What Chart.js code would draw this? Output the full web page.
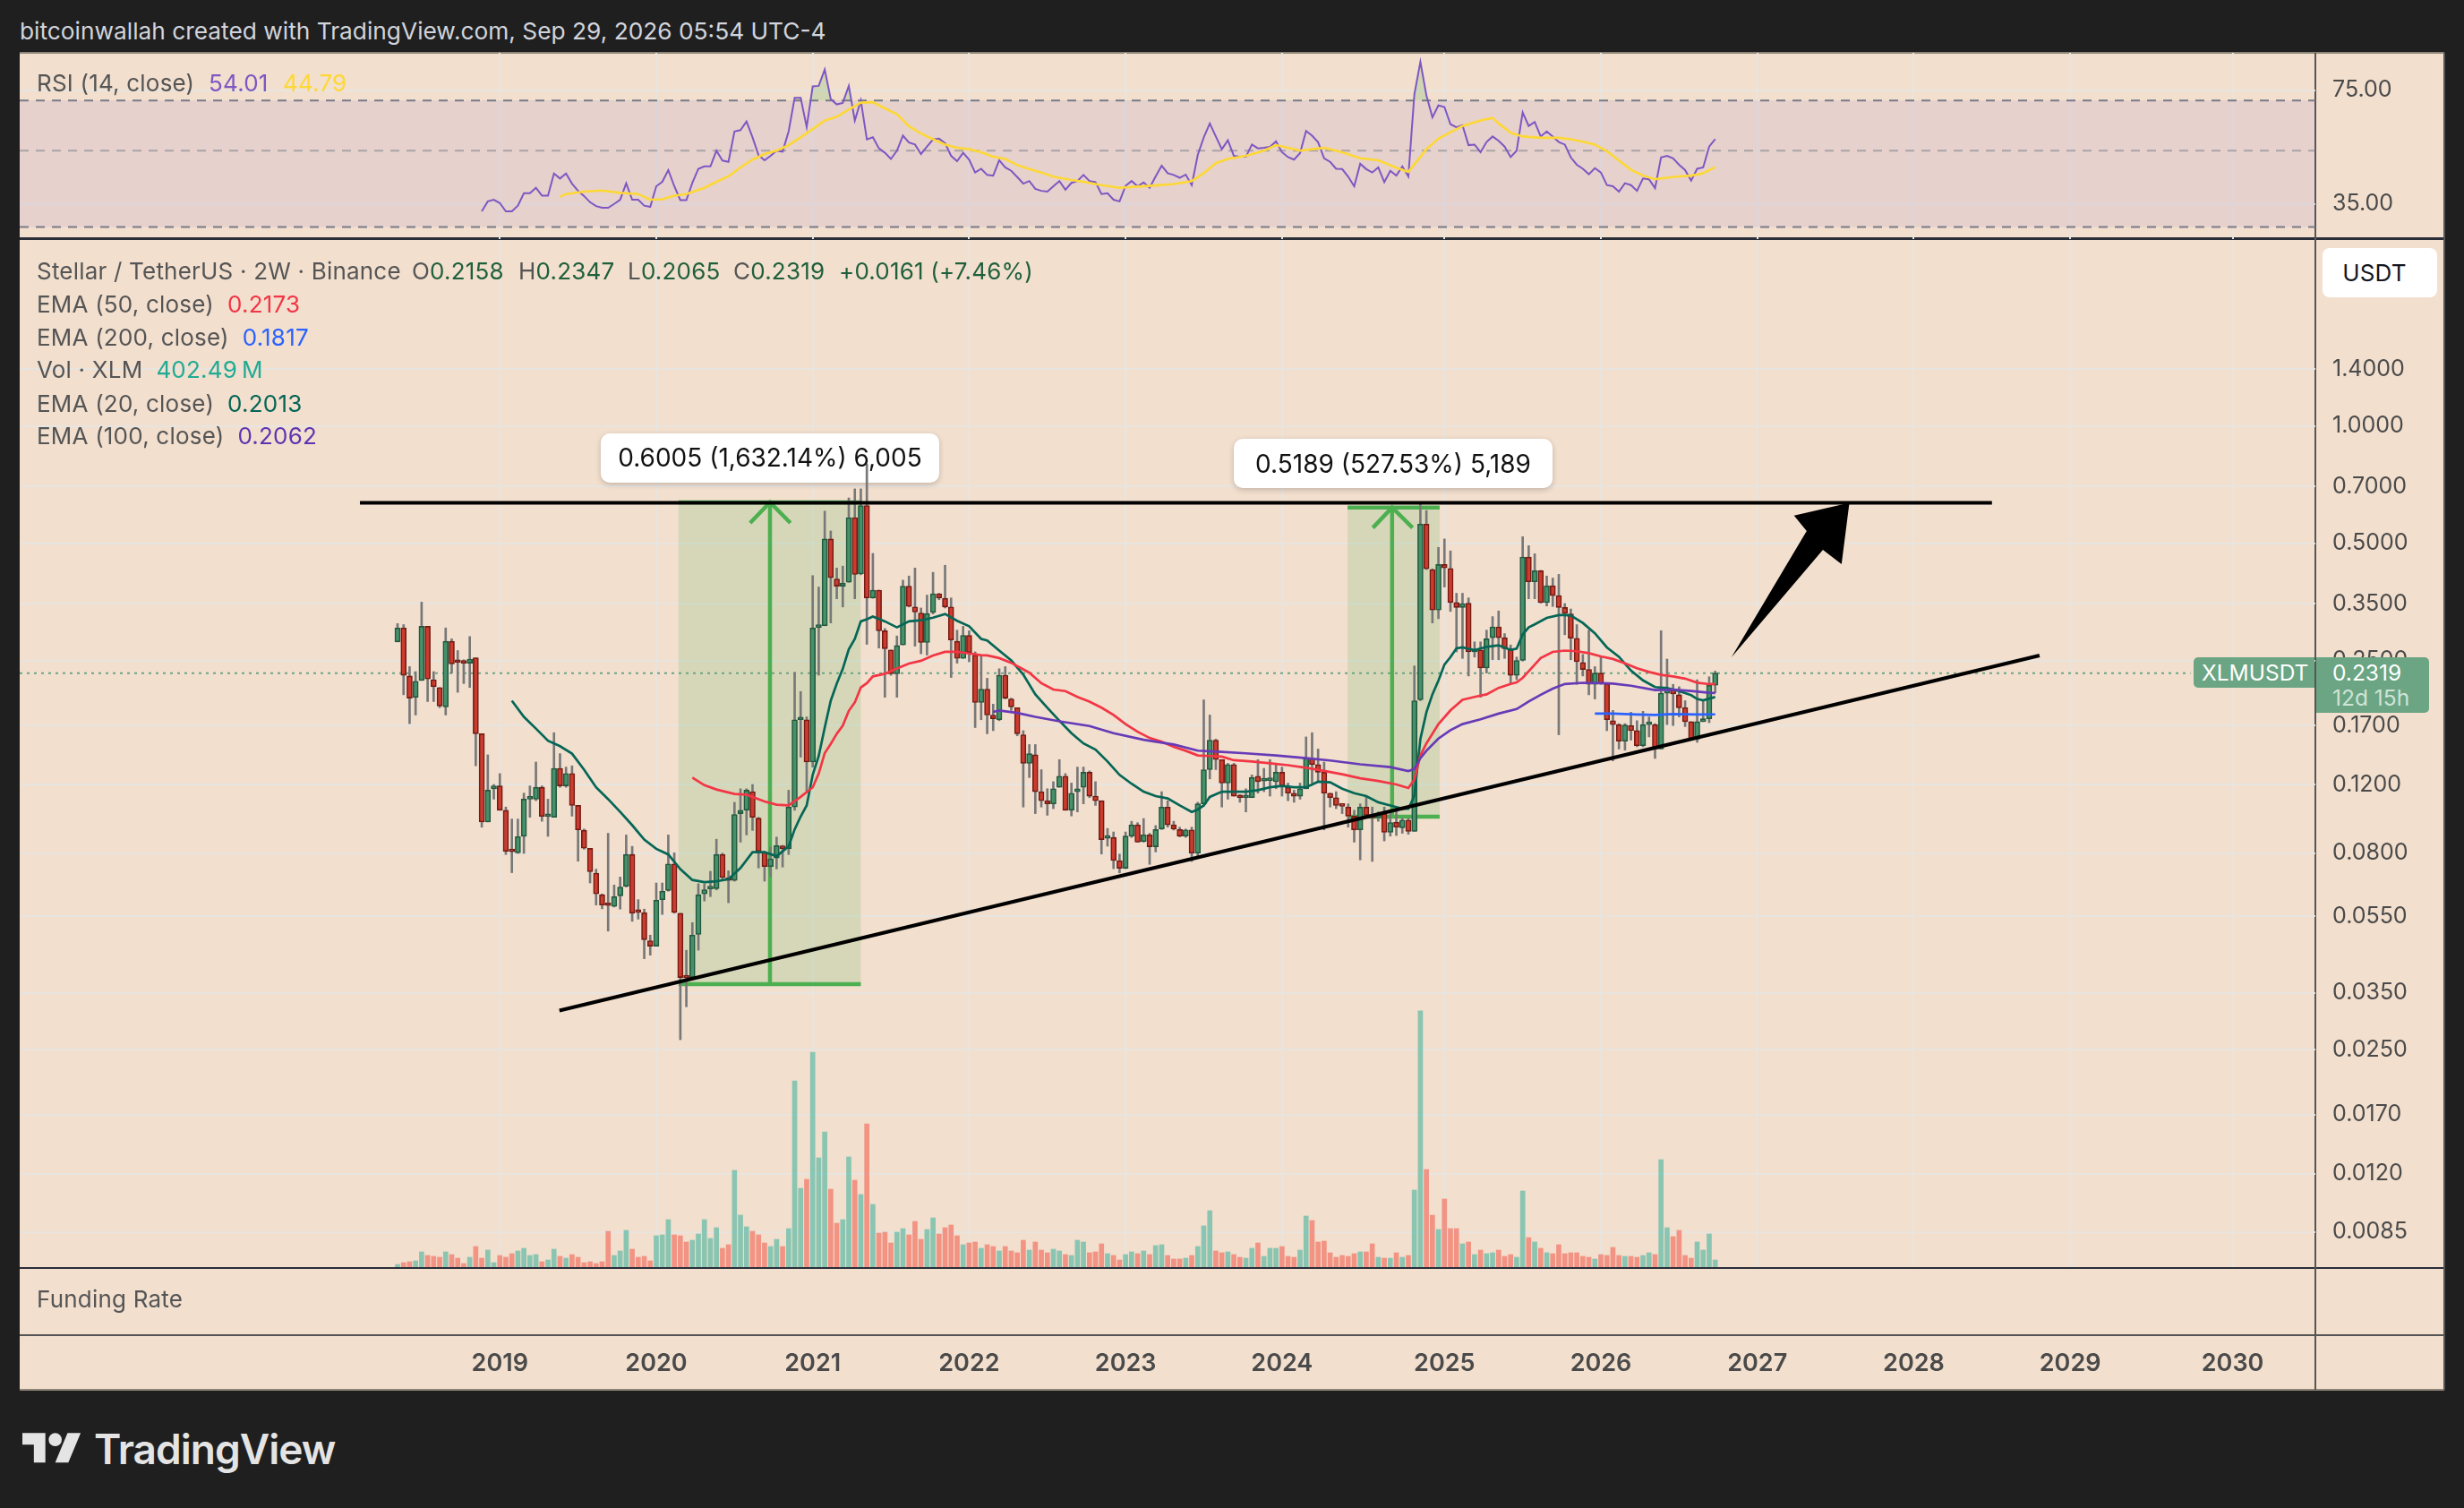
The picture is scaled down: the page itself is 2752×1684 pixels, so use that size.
<!DOCTYPE html>
<html>
<head>
<meta charset="utf-8">
<title>XLMUSDT</title>
<script src="https://cdn.jsdelivr.net/npm/chart.js@4/dist/chart.umd.min.js"></script>
<style>
html,body{margin:0;padding:0;background:#1f1f1f;width:2752px;height:1684px;overflow:hidden;font-family:Inter,"Noto Sans",sans-serif}
#panel{position:absolute;left:22px;top:58px;width:2708px;height:1494px;background:#f2dfce}
canvas{position:absolute;z-index:2}
.rule{position:absolute;z-index:1}
.t{position:absolute;z-index:3;white-space:nowrap;font-size:26px;letter-spacing:.2px;line-height:30px;color:#555}
.up{color:#1f5f3c}
.box{position:absolute;z-index:3;text-align:center;color:#111;font-size:28px;line-height:30px;white-space:nowrap}
.badge{position:absolute;z-index:3;background:#6ba583;color:#fff;font-size:24.5px;line-height:30px;white-space:nowrap}
</style>
</head>
<body>
<div class="t" style="left:22px;top:20px;color:#d1d4dc;font-size:26.3px;letter-spacing:0">bitcoinwallah created with TradingView.com, Sep 29, 2026 05:54 UTC-4</div>
<div id="panel"></div>
<div class="rule" style="left:22px;top:58px;width:2708px;height:2px;background:#8f8578"></div>
<div class="rule" style="left:22px;top:265px;width:2708px;height:3px;background:#2a2e39"></div>
<div class="rule" style="left:22px;top:1415px;width:2708px;height:2px;background:#2a2e39"></div>
<div class="rule" style="left:22px;top:1490px;width:2708px;height:2px;background:#555"></div>
<div class="rule" style="left:22px;top:1551px;width:2708px;height:2px;background:#8f8578"></div>
<div class="rule" style="left:2585px;top:59px;width:2px;height:1493px;background:#555"></div>
<div class="rule" style="left:2729px;top:59px;width:2px;height:1493px;background:#555"></div>
<canvas id="rsiChart" width="2708" height="208" style="left:22px;top:59px"></canvas>
<canvas id="priceChart" width="2708" height="1284" style="left:22px;top:268px"></canvas>

<div class="t" style="left:41px;top:78px">RSI (14, close)</div>
<div class="t" style="left:233px;top:78px;color:#7e57c2">54.01</div>
<div class="t" style="left:316px;top:78px;color:#fdd835">44.79</div>

<div class="t" style="left:41px;top:288px">Stellar / TetherUS · 2W · Binance</div>
<div class="t" style="left:460px;top:288px">O<span class="up">0.2158</span></div>
<div class="t" style="left:579px;top:288px">H<span class="up">0.2347</span></div>
<div class="t" style="left:701px;top:288px">L<span class="up">0.2065</span></div>
<div class="t" style="left:819px;top:288px">C<span class="up">0.2319</span></div>
<div class="t up" style="left:937px;top:288px">+0.0161 (+7.46%)</div>
<div class="t" style="left:41px;top:325px">EMA (50, close)&nbsp;&nbsp;<span style="color:#f23645">0.2173</span></div>
<div class="t" style="left:41px;top:362px">EMA (200, close)&nbsp;&nbsp;<span style="color:#2962ff">0.1817</span></div>
<div class="t" style="left:41px;top:398px">Vol · XLM&nbsp;&nbsp;<span style="color:#22ab94">402.49&#8201;M</span></div>
<div class="t" style="left:41px;top:436px">EMA (20, close)&nbsp;&nbsp;<span style="color:#056656">0.2013</span></div>
<div class="t" style="left:41px;top:472px">EMA (100, close)&nbsp;&nbsp;<span style="color:#5e35b1">0.2062</span></div>

<div class="box" style="left:671px;top:496px;width:378px">0.6005 (1,632.14%) 6,005</div>
<div class="box" style="left:1378px;top:503px;width:356px">0.5189 (527.53%) 5,189</div>

<div class="t" style="left:2594px;top:277px;width:116px;height:55px;padding-right:12px;line-height:55px;background:#fff;border-radius:8px;text-align:center;color:#131722">USDT</div>
<div class="badge" style="left:2450px;top:734px;width:135px;height:34px;line-height:34px;border-radius:5px 0 0 5px;text-indent:9px">XLMUSDT</div>
<div class="badge" style="left:2587px;top:734px;width:126px;height:62px;border-radius:0 5px 5px 0">
<div style="position:absolute;left:18px;top:2px">0.2319</div>
<div style="position:absolute;left:18px;top:30px;color:#cfe3d7">12d 15h</div>
</div>

<div class="t" style="left:41px;top:1436px">Funding Rate</div>

<svg style="position:absolute;left:25px;top:1593px" width="66" height="51.4" viewBox="0 0 36 28"><path fill="#e4e4e4" d="M14 22H7V11H0V4h14v18zM28 22h-8l7.5-18h8L28 22z"/><circle fill="#e4e4e4" cx="20" cy="8" r="4"/></svg>
<div class="t" style="left:105px;top:1593px;color:#e4e4e4;font-size:46px;line-height:50px;font-weight:600;letter-spacing:-1px">TradingView</div>

<script>
const opens=[
.279,.303,.228,.201,.222,.306,.223,.213,.190,.280,
.248,.247,.246,.254,.162,.0961,.117,.119,.103,.0808,
.0800,.0883,.110,.110,.118,.0993,.0988,.132,.119,.128,
.106,.0915,.0822,.0710,.0625,.0588,.0583,.0621,.0657,.0793,
.0565,.0562,.0476,.0461,.0607,.0641,.0750,.0560,.0383,.0383,
.0494,.0628,.0647,.0648,.0793,.0689,.0680,.101,.103,.115,
.0983,.0804,.0738,.0776,.0834,.0821,.105,.176,.176,.137,
.304,.307,.513,.405,.388,.397,.582,.417,.625,.362,
.379,.298,.266,.231,.274,.388,.343,.331,.278,.332,
.371,.361,.343,.280,.253,.290,.258,.195,.211,.181,
.176,.229,.199,.189,.161,.136,.143,.115,.109,.107,
.118,.126,.103,.115,.118,.129,.112,.109,.0873,.0877,
.0765,.0731,.0884,.0945,.0856,.0891,.0830,.0922,.105,.0945,
.0919,.0884,.0917,.0799,.107,.131,.156,.139,.121,.135,
.1115,.111,.111,.126,.1225,.1228,.122,.129,.118,.114,
.112,.117,.140,.135,.129,.114,.111,.106,.105,.0995,
.0917,.105,.100,.0986,.101,.0904,.096,.0929,.0972,.0909,
.198,.560,.428,.337,.441,.431,.352,.342,.351,.263,
.266,.239,.286,.305,.286,.268,.229,.250,.461,.398,
.425,.352,.389,.367,.342,.329,.285,.247,.237,.217,
.232,.218,.175,.171,.155,.170,.165,.151,.171,.171,
.148,.206,.210,.204,.189,.174,.157,.174,.177,.2158]
const highs=[
.311,.309,.241,.234,.353,.306,.234,.213,.303,.284,
.265,.251,.288,.254,.162,.143,.120,.128,.105,.0978,
.0978,.114,.119,.137,.119,.110,.163,.144,.133,.134,
.106,.0922,.0822,.0727,.0628,.0899,.0662,.0694,.0890,.0832,
.0607,.0574,.0492,.0670,.0670,.0890,.0801,.0560,.0450,.0530,
.0667,.0667,.0718,.0868,.0799,.0720,.108,.117,.117,.120,
.0988,.0808,.0828,.0879,.0837,.116,.233,.208,.179,.413,
.386,.605,.538,.432,.437,.654,.690,.690,.800,.471,
.379,.302,.266,.289,.402,.412,.432,.341,.368,.421,
.372,.439,.362,.299,.306,.298,.263,.258,.225,.193,
.238,.241,.200,.189,.165,.152,.152,.131,.117,.122,
.139,.128,.121,.133,.133,.130,.122,.109,.0925,.0906,
.0795,.0906,.0965,.0957,.0981,.0899,.0941,.115,.109,.0965,
.0932,.0922,.0932,.108,.198,.181,.157,.139,.136,.136,
.113,.117,.127,.139,.132,.139,.135,.133,.121,.116,
.121,.159,.163,.148,.137,.114,.115,.106,.107,.103,
.107,.112,.105,.102,.105,.101,.105,.0984,.0984,.242,
.634,.607,.430,.488,.513,.478,.372,.372,.362,.279,
.279,.299,.324,.335,.293,.274,.255,.520,.493,.470,
.426,.412,.407,.416,.350,.339,.309,.259,.299,.241,
.255,.219,.186,.172,.172,.184,.175,.185,.179,.172,
.298,.252,.217,.214,.197,.174,.223,.197,.227,.2347]
const lows=[
.279,.204,.172,.181,.222,.196,.196,.189,.181,.232,
.207,.218,.213,.134,.0932,.0961,.110,.103,.0793,.0712,
.0798,.0798,.0988,.109,.0965,.0883,.0988,.118,.118,.0995,
.0762,.0818,.0670,.0588,.0575,.0504,.0581,.0574,.0654,.0534,
.0541,.0428,.0437,.0461,.0556,.0638,.0560,.0265,.0322,.0380,
.0450,.0602,.0618,.0643,.0682,.0596,.0677,.0853,.0890,.0914,
.0732,.0677,.0695,.0728,.0736,.0793,.103,.141,.115,.133,
.229,.307,.312,.360,.343,.397,.360,.415,.275,.361,
.269,.201,.229,.201,.274,.343,.272,.260,.258,.329,
.358,.341,.226,.246,.253,.248,.168,.176,.162,.165,
.175,.199,.186,.160,.105,.125,.101,.105,.100,.104,
.118,.103,.0996,.102,.107,.111,.106,.0795,.0833,.0729,
.0711,.0729,.0877,.0853,.0853,.0748,.0805,.0919,.0932,.0916,
.0880,.0877,.0761,.0785,.107,.124,.131,.105,.110,.112,
.108,.102,.111,.114,.115,.112,.117,.112,.109,.108,
.110,.117,.121,.122,.0917,.105,.104,.101,.0932,.0853,
.0768,.0984,.0761,.0965,.0859,.0884,.0887,.0899,.0894,.0909,
.197,.428,.312,.320,.386,.334,.263,.253,.228,.255,
.201,.232,.251,.251,.253,.218,.223,.249,.360,.360,
.351,.345,.344,.161,.291,.251,.217,.228,.204,.199,
.217,.165,.138,.148,.147,.156,.150,.150,.159,.140,
.148,.171,.170,.179,.169,.156,.154,.174,.173,.2065]
const closes=[
.303,.229,.200,.221,.306,.224,.214,.191,.280,.245,
.247,.246,.252,.162,.0961,.116,.119,.103,.0808,.0806,
.0881,.110,.1105,.118,.0993,.0997,.132,.119,.128,.106,
.0917,.0823,.0716,.0628,.0588,.0586,.0618,.0654,.0793,.0560,
.0563,.0479,.0461,.0605,.0638,.0750,.0563,.0383,.0382,.0492,
.0625,.0644,.0648,.0793,.0692,.0680,.1005,.103,.116,.0988,
.0808,.0738,.0773,.0836,.0821,.105,.176,.177,.137,.303,
.306,.513,.408,.388,.395,.582,.416,.625,.362,.379,
.298,.268,.231,.273,.388,.344,.333,.278,.330,.371,
.362,.343,.282,.253,.290,.262,.195,.211,.181,.177,
.229,.200,.190,.162,.136,.144,.115,.109,.107,.117,
.126,.103,.114,.117,.129,.112,.109,.0866,.0880,.0765,
.0731,.0884,.0945,.0853,.0891,.0830,.0919,.105,.0945,.0922,
.0884,.0917,.0799,.107,.131,.156,.139,.121,.135,.112,
.111,.1115,.125,.122,.1228,.123,.129,.119,.114,.112,
.117,.140,.135,.129,.114,.111,.106,.1055,.0995,.0917,
.105,.100,.0984,.101,.0904,.0958,.0932,.0972,.0909,.197,
.560,.430,.337,.441,.432,.352,.342,.350,.263,.267,
.239,.284,.305,.286,.268,.229,.250,.461,.398,.425,
.352,.389,.367,.342,.330,.285,.248,.237,.217,.232,
.218,.176,.171,.155,.1706,.165,.151,.171,.172,.148,
.206,.211,.205,.189,.174,.157,.174,.177,.2158,.2319]
const volumes=[
151,252,302,352,855,654,604,553,855,704,
503,201,553,1157,503,956,252,654,553,755,
906,1057,654,704,302,402,1006,604,503,704,
553,252,302,201,302,2012,654,906,2063,1006,
553,604,352,1761,1811,2666,1811,1761,1409,1509,
1861,2666,1610,2214,1057,1258,5433,2918,2264,2012,
1811,1358,1157,1560,1157,2163,10464,4427,4930,12074,
6138,7597,4377,2465,2666,6188,4880,4075,8050,3522,
1912,1962,1358,1962,2163,1811,2566,1560,2113,2767,
1861,2214,2365,1761,1258,1358,1409,1057,1258,1157,
906,1157,906,805,1509,956,1409,956,805,1006,
906,704,654,1509,1409,805,855,1308,755,654,
402,704,855,755,906,704,1207,1258,654,453,
453,503,654,1157,2314,3170,906,805,855,704,
553,503,1057,1358,604,1057,1057,1157,604,553,
956,2868,2616,1409,1459,805,553,654,604,755,
855,855,1308,553,503,503,805,553,654,4327,
14389,5484,2918,2113,3824,2163,2163,1308,1409,704,
956,755,805,956,604,704,553,4276,1660,1409,
1057,805,755,1258,755,805,805,604,553,453,
704,654,1107,654,604,604,553,654,805,704,
6037,2214,1711,2063,654,503,1409,956,1861,402.49]

const ema20Bars=[19,21,23,25,27,29,31,33,35,37,39,41,43,45,47,49,51,53,55,57,59,61,63,65,66,67,68,69,70,71,72,73,74,75,76,77,78,79,81,83,85,87,89,91,93,95,97,98,100,102,104,106,108,110,112,114,116,118,120,122,124,126,128,130,132,133,134,135,137,139,141,143,145,147,149,151,153,155,157,159,161,163,165,167,168,169,170,171,172,173,174,175,176,177,179,181,183,185,186,187,188,189,191,193,194,195,197,199,201,203,205,207,209,211,213,215,216,217,218,219]
const ema20=[.197,.179,.167,.1555,.1505,.144,.131,.118,.110,.102,.0943,.0866,.082,.0793,.0727,.0682,.0673,.0677,.0685,.0732,.0804,.0804,.0785,.0832,.0920,.0993,.106,.127,.142,.168,.197,.218,.238,.267,.284,.315,.319,.324,.315,.304,.315,.317,.322,.329,.316,.306,.284,.2815,.265,.250,.2300,.2045,.189,.175,.1625,.153,.1475,.1375,.127,.1205,.115,.112,.1105,.106,.102,.1035,.106,.1115,.115,.115,.115,.116,.118,.119,.118,.118,.122,.1215,.117,.114,.112,.108,.106,.1040,.104,.1122,.1570,.184,.2045,.222,.2440,.255,.2685,.270,.2655,.271,.2735,.266,.268,.2915,.304,.3095,.3215,.327,.327,.326,.312,.2935,.270,.2555,.2355,.2222,.2135,.2122,.2085,.2036,.199,.1975,.1995,.2013]
const ema50Bars=[49,51,53,56,58,61,63,65,67,69,70,71,72,73,74,75,76,77,78,79,81,83,85,87,89,91,93,95,97,98,100,102,105,107,109,111,113,115,117,119,121,123,125,127,129,131,133,135,137,139,142,145,148,151,154,157,160,163,166,168,169,170,171,173,175,177,179,181,183,185,186,187,188,190,192,194,196,198,200,202,204,206,208,210,212,214,216,218,219]
const ema50=[.125,.1195,.1165,.1135,.113,.1085,.1065,.106,.1115,.118,.128,.1445,.1525,.162,.17,.1855,.195,.213,.2185,.2275,.231,.2385,.2455,.2495,.2575,.263,.263,.2605,.258,.2575,.2535,.2465,.2325,.2185,.2105,.2085,.2015,.196,.189,.181,.1715,.164,.158,.1545,.15,.1465,.1425,.142,.1415,.1385,.1375,.136,.1345,.1325,.130,.1275,.1245,.1225,.12,.1175,.1235,.1425,.153,.1715,.186,.198,.2015,.2045,.2125,.2175,.2195,.2255,.2345,.2535,.263,.265,.264,.261,.256,.2522,.2458,.2387,.2335,.2295,.2275,.2245,.2192,.2173,.2173]
const ema100Bars=[99,100,103,106,110,115,119,124,129,133,137,141,146,151,155,160,165,168,169,170,171,173,175,177,180,183,186,188,190,192,194,197,200,202,205,209,212,215,218,219]
const ema100=[.1843,.1859,.1832,.1791,.1744,.1696,.1625,.1563,.1520,.1466,.1455,.1443,.1425,.1402,.1383,.1352,.1330,.1299,.1315,.1402,.1465,.1575,.1655,.1715,.1765,.1825,.1875,.196,.204,.2115,.2175,.219,.2185,.2179,.2153,.2097,.2104,.2086,.2065,.2062]
const ema200Bars=[199,202,206,209,212,216,219]
const ema200=[.1826,.1826,.1816,.181,.182,.1816,.1817]

const rsiStart=14
const rsi=[
33.3,35.6,36,35.2,33.3,33.3,34.6,37.6,37.6,39,
37,37,42.9,41.5,42.9,40.1,38.2,36.9,35.4,34.5,
34.1,34.1,35,36,40.2,36,36,34.6,34.3,39.4,
40.6,43.9,39.4,35.9,35.9,40.3,44.3,45,45,50,
46.8,46.4,56.9,57.4,60.8,54.7,48.5,46.9,48.3,50,
49.7,56.9,71.2,71.2,58.6,76.9,77.2,86.1,70.6,68.2,
68.9,77.2,61.2,70,53.9,54.7,50.8,49.3,47.3,50,
55.3,52.8,52.1,48.9,51.4,53.9,54.2,52.6,48.3,46.6,
49.3,47.1,43.2,44.3,42.5,42.3,46.9,44.7,43.7,41.9,
40.1,40.8,38.7,38.2,38,39.4,40.8,38.5,40.3,
40.8,42.5,40.8,40.5,37.4,37.6,36,35.6,39.5,40.8,
39.4,40.4,39,42.1,45.2,43,42.5,41.7,42.6,39.7,
48.6,54.7,60,55,50.5,53.6,48.3,48,48,52.1,
50.8,51,51.3,53.2,49.5,47.9,47.1,49.2,57.1,55.3,
52.9,47.5,46.4,44.3,44.2,42,39.4,45.8,44.2,43.2,
44.7,40.5,43.7,42.3,45,42.1,72.9,90.7,72.4,62.5,
67.7,67,59.7,58.5,59.3,51.9,52.1,49.5,53,55,
53.4,51.4,47.9,50,64.6,59,60.6,55,56.9,55,
53,52.1,47.8,45.5,44.3,42.7,44.5,43.2,39.7,39.4,
38,40.2,39.7,38.2,41.5,41.3,38.9,47.8,48.3,47.5,
45.5,43.9,40.9,44.3,44.7,51.4,54.01]
const rsiMaBars=[27,28,31,34,37,40,42,44,46,48,51,53,55,57,59,61,63,65,67,69,71,73,75,77,79,81,83,85,87,89,91,93,95,97,99,101,103,105,107,109,112,114,117,120,123,126,129,132,134,136,138,141,144,146,148,150,152,154,157,160,163,166,168,170,171,173,175,177,180,182,183,185,187,190,193,195,197,199,201,203,205,207,209,211,213,215,217,219]
const rsiMa=[36.7,37.4,38,38.3,37.7,37.4,36,36.1,37,37.4,39,40.6,42.1,44.7,47.1,48.9,50,51.9,54.7,57.8,61.2,62.8,65.9,69,69.2,66.4,63.8,58.9,56.1,54,52.1,51,50.5,49.5,48,47.3,45.4,44.2,43.2,42,41.1,40.6,39.7,39,39.3,39.6,40,40.8,43,46,47.3,48.3,50,51.9,51,50,50.5,51,49.5,47.5,46.9,44.6,43.4,48,50.5,54.2,56.6,59,61.2,62.3,60,56.4,55,54.5,54.5,54,53.1,52.1,49.8,46.8,44,42.3,41.3,41.7,42.1,42.3,43,44.79]

const yearBars=[17,43,69,95,121,147,174,200,226,252,278,305]
const yearLabels=["2019","2020","2021","2022","2023","2024","2025","2026","2027","2028","2029","2030"]
const priceTicks=[1.4,1,.7,.5,.35,.25,.17,.12,.08,.055,.035,.025,.017,.012,.0085]
const rsiTicks=[75,35]
const lastPrice=.2319

const resistanceBars=[-6.25,265]
const resistancePrices=[.635,.635]
const supportBars=[26.9,272.9]
const supportPrices=[.0315,.2574]
const arrowBars=[221.7,234.2,232.1,241.3,240,236.9]
const arrowPrices=[.2547,.5376,.5893,.635,.442,.481]

const measure1Bars=[46.7,77,61.9,58.6,65.3]
const measure1Prices=[.6373,.0368,.564]
const measure2Bars=[157.9,173.2,165.3,162.1,168.7]
const measure2Prices=[.6181,.0992,.548]

const labelBoxes=[[671,484,378,55],[1378,490,356,55]]

const xMin=-62.8
const xMax=318.75
const gridColor="#e8e4df"
const tickFont={family:"Inter",size:25}

function pairs(xs,ys){
return xs.map((x,i)=>({x:x,y:ys[i]}))
}

function lineSet(data,color,width,order,extra){
return Object.assign({type:"line",data:data,borderColor:color,borderWidth:width,pointRadius:0,tension:0,fill:false,order:order},extra||{})
}

function measureSets(bars,prices){
const green="#4caf50"
return [
lineSet([{x:bars[0],y:prices[0]},{x:bars[1],y:prices[0]}],green,4.5,9),
lineSet([{x:bars[0],y:prices[1]},{x:bars[1],y:prices[1]}],green,4.5,9),
lineSet([{x:bars[2],y:prices[1]},{x:bars[2],y:prices[0]}],green,4.5,9),
lineSet([{x:bars[3],y:prices[2]},{x:bars[2],y:prices[0]},{x:bars[4],y:prices[2]}],green,4.5,9)
]
}

const up=closes.map((c,i)=>c>=opens[i])
const barIdx=closes.map((c,i)=>i)

const drawings={
id:"drawings",
beforeDatasetsDraw(chart){
const c=chart.ctx,x=chart.scales.x,y=chart.scales.y
c.save()
c.fillStyle="rgba(76,175,80,0.17)"
;[[measure1Bars,measure1Prices],[measure2Bars,measure2Prices]].forEach(m=>{
let x0=x.getPixelForValue(m[0][0]),x1=x.getPixelForValue(m[0][1])
let y0=y.getPixelForValue(m[1][0]),y1=y.getPixelForValue(m[1][1])
c.fillRect(x0,y0,x1-x0,y1-y0)
})
labelBoxes.forEach(b=>{
c.save()
c.shadowColor="rgba(0,0,0,0.2)"
c.shadowBlur=6
c.shadowOffsetY=2
c.fillStyle="#fff"
c.beginPath()
c.roundRect(b[0]-22,b[1]-268,b[2],b[3],10)
c.fill()
c.restore()
})
c.restore()
},
afterDatasetsDraw(chart){
const c=chart.ctx,x=chart.scales.x,y=chart.scales.y
c.save()
c.fillStyle="#000"
c.beginPath()
arrowBars.forEach((b,i)=>{
let px=x.getPixelForValue(b),py=y.getPixelForValue(arrowPrices[i])
if(i==0)c.moveTo(px,py)
else c.lineTo(px,py)
})
c.closePath()
c.fill()
c.restore()
}
}

const rsiBand={
id:"rsiBand",
beforeDatasetsDraw(chart){
const c=chart.ctx,a=chart.chartArea,y=chart.scales.y
let y0=y.getPixelForValue(70),y1=y.getPixelForValue(30)
c.save()
c.fillStyle="rgba(126,87,194,0.1)"
c.fillRect(a.left,y0,a.right-a.left,y1-y0)
c.restore()
}
}

function noPadding(s){
s.paddingTop=0
s.paddingBottom=0
s.paddingLeft=0
s.paddingRight=0
}

function xScale(showLabels){
return {
type:"linear",
min:xMin,
max:xMax,
offset:false,
bounds:"data",
border:{display:false},
grid:{color:gridColor,lineWidth:2,drawTicks:false,offset:false},
afterBuildTicks:s=>{s.ticks=yearBars.map(v=>({value:v}))},
afterFit:s=>{s.height=showLabels?137:0;noPadding(s)},
ticks:{
display:showLabels,
autoSkip:false,
maxRotation:0,
padding:92,
color:"#4a4a4a",
font:{family:"Inter",size:27,weight:"600"},
callback:v=>yearLabels[yearBars.indexOf(v)]
}
}
}

function yScale(min,max,ticks,digits){
return {
type:"logarithmic",
position:"right",
min:min,
max:max,
bounds:"data",
border:{display:false},
grid:{color:gridColor,lineWidth:2,drawTicks:false},
afterBuildTicks:s=>{s.ticks=ticks.map(v=>({value:v}))},
afterFit:s=>{s.width=144;noPadding(s)},
ticks:{autoSkip:false,padding:19,color:"#4a4a4a",font:tickFont,callback:v=>v.toFixed(digits)}
}
}

const baseOptions={responsive:false,animation:false,devicePixelRatio:1,events:[],layout:{autoPadding:false,padding:0},plugins:{legend:{display:false},tooltip:{enabled:false}}}

new Chart(document.getElementById("priceChart"),{
type:"bar",
plugins:[drawings],
data:{datasets:[
{label:"Vol",yAxisID:"yVol",data:pairs(barIdx,volumes),barThickness:5,grouped:false,order:12,
backgroundColor:up.map(u=>u?"rgba(34,171,148,0.5)":"rgba(242,84,69,0.55)")},
lineSet([{x:xMin,y:lastPrice},{x:298,y:lastPrice}],"#6ba583",2,11,{borderDash:[3,5]}),
...measureSets(measure1Bars,measure1Prices),
...measureSets(measure2Bars,measure2Prices),
{label:"wicks",data:barIdx.map(i=>({x:i,y:[lows[i],highs[i]]})),barThickness:2,grouped:false,order:8,backgroundColor:"#787878"},
{label:"bodies",data:barIdx.map(i=>({x:i,y:[Math.min(opens[i],closes[i]),Math.max(opens[i],closes[i])]})),barThickness:6,grouped:false,order:7,minBarLength:3,borderSkipped:false,borderWidth:1.6,
backgroundColor:up.map(u=>u?"#46906a":"#cb3c2e"),borderColor:up.map(u=>u?"#22593f":"#741b14")},
lineSet(pairs(ema200Bars,ema200),"#2962ff",2.7,5),
lineSet(pairs(ema100Bars,ema100),"#673ab7",2.7,5),
lineSet(pairs(ema50Bars,ema50),"#f23645",2.7,5),
lineSet(pairs(ema20Bars,ema20),"#056656",2.7,5),
lineSet(pairs(resistanceBars,resistancePrices),"#000",4,3),
lineSet(pairs(supportBars,supportPrices),"#000",4,3)
]},
options:Object.assign({},baseOptions,{scales:{
x:xScale(true),
y:yScale(.0069,3.009,priceTicks,4),
yVol:{type:"linear",display:false,min:0,max:57694,position:"left"}
}})
})

new Chart(document.getElementById("rsiChart"),{
type:"line",
plugins:[rsiBand],
data:{datasets:[
lineSet([{x:xMin,y:70},{x:xMax,y:70}],"#787b86",2,6,{borderDash:[10,8]}),
lineSet([{x:xMin,y:50},{x:xMax,y:50}],"rgba(120,123,134,0.55)",2,6,{borderDash:[10,8]}),
lineSet([{x:xMin,y:30},{x:xMax,y:30}],"#787b86",2,6,{borderDash:[10,8]}),
lineSet(rsi.map((v,i)=>({x:i+rsiStart,y:v})),"#7e57c2",2,4,{fill:{target:{value:70},above:"rgba(76,175,80,0.2)",below:"rgba(0,0,0,0)"}}),
lineSet(pairs(rsiMaBars,rsiMa),"#fdd835",2.6,3)
]},
options:Object.assign({},baseOptions,{scales:{
x:xScale(false),
y:yScale(27.65,96.33,rsiTicks,2)
}})
})
</script>
</body>
</html>
